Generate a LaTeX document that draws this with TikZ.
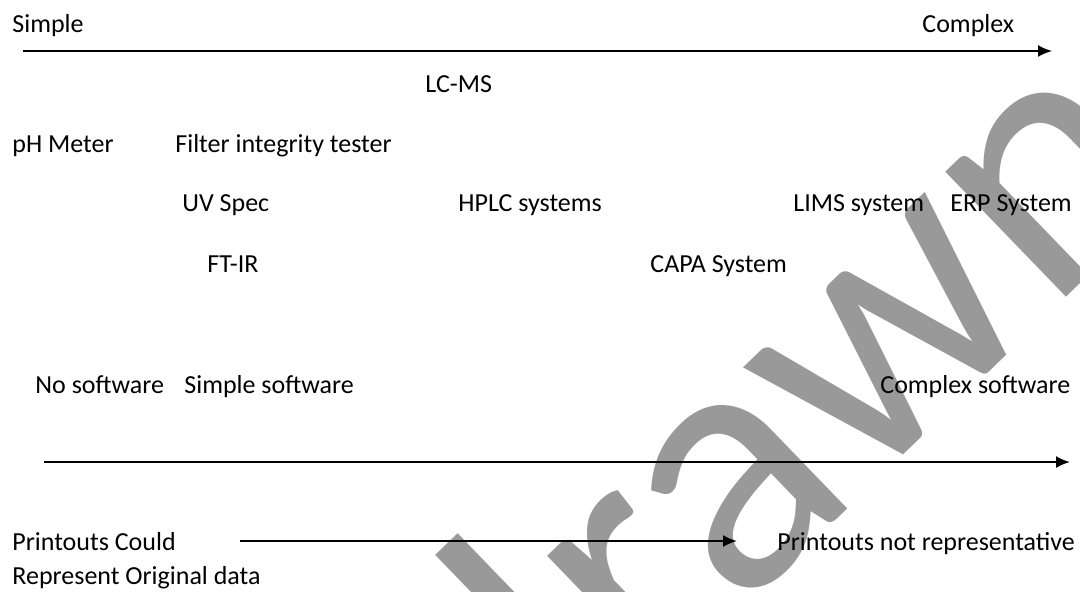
\documentclass[tikz,border=0pt]{standalone}
\usepackage{fontspec}
\setmainfont{Carlito}
\usetikzlibrary{arrows.meta}
\definecolor{wmark}{HTML}{999999}
\tikzset{
  lbl/.style={anchor=base west, inner sep=0pt, font=\fontsize{13}{15}\selectfont},
  axis/.style={line width=1pt, -{Latex[length=7pt,width=6pt]}}
}

\begin{document}
\begin{tikzpicture}[x=0.5pt,y=-0.5pt]
      \useasboundingbox (0,0) rectangle (1080,591);
      % watermark
      \begin{scope}
        \clip (0,0) rectangle (1080,591);
        \node[anchor=base west, inner sep=0pt, rotate=44, text=wmark,
              font=\fontsize{182}{182}\selectfont] (wm) at (-4,1331) {Withdrawn};
      \end{scope}
      % complexity axis
      \node[lbl] (simple) at (12,32) {Simple};
      \node[lbl] (complex) at (922,32) {Complex};
      \coordinate (a1) at (23,51);
      \coordinate (b1) at (1052,51);
      \draw[axis] (a1) -- (b1);
      \node[lbl] (lcms) at (425,92) {LC-MS};
      \node[lbl] (ph) at (12,152) {pH Meter};
      \node[lbl] (fit) at (175,152) {Filter integrity tester};
      \node[lbl] (uv) at (182,211) {UV Spec};
      \node[lbl] (hplc) at (458,211) {HPLC systems};
      \node[lbl] (lims) at (793,211) {LIMS system};
      \node[lbl] (erp) at (950,211) {ERP System};
      \node[lbl] (ftir) at (207,272) {FT-IR};
      \node[lbl] (capa) at (650,272) {CAPA System};
      % software axis
      \node[lbl] (nosw) at (35,393) {No software};
      \node[lbl] (simsw) at (184,393) {Simple software};
      \node[lbl] (comsw) at (880,393) {Complex software};
      \coordinate (a2) at (44,462);
      \coordinate (b2) at (1070,462);
      \draw[axis] (a2) -- (b2);
      % printouts
      \node[lbl] (pcould) at (12,550) {Printouts Could};
      \node[lbl] (porig) at (12,584) {Represent Original data};
      \node[lbl] (pnot) at (777,550) {Printouts not representative};
      \coordinate (a3) at (240,541);
      \coordinate (b3) at (737,541);
      \draw[axis] (a3) -- (b3);
\end{tikzpicture}
\end{document}
